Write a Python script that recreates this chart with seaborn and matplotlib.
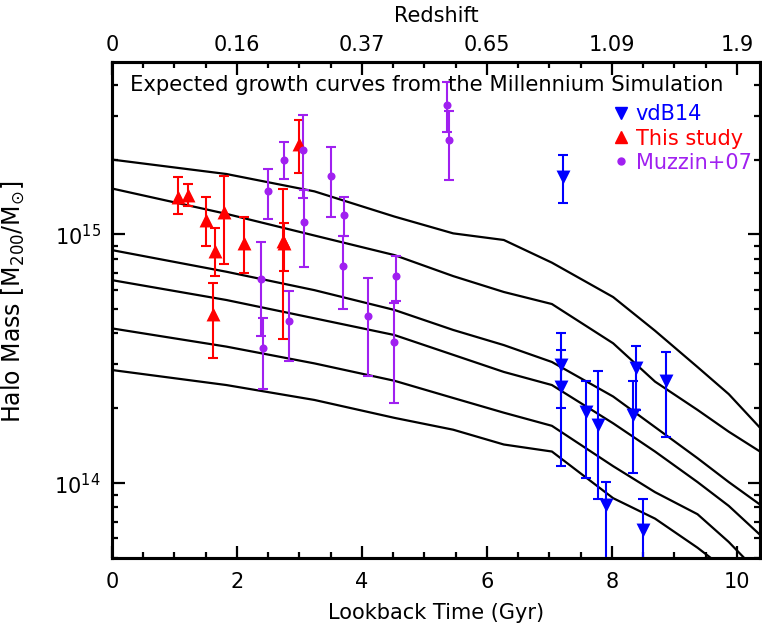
import numpy as np
import pandas as pd
import matplotlib
matplotlib.use("Agg")
import matplotlib.pyplot as plt
from matplotlib.lines import Line2D
from matplotlib.ticker import MultipleLocator, FixedLocator, FixedFormatter, LogLocator, NullFormatter
import seaborn as sns

sns.set_theme(style="ticks")
plt.rcParams["font.family"] = ["DejaVu Sans"]
plt.rcParams["mathtext.fontset"] = "dejavusans"
for k in ["text.color", "axes.labelcolor", "xtick.color", "ytick.color", "axes.edgecolor"]:
    plt.rcParams[k] = "black"

# ---------------- data (masses in units of 1e15 Msun) ----------------
curve_t = [0.0, 1.83, 3.24, 4.52, 5.46, 6.27, 7.04, 8.02, 8.69, 9.37, 9.87, 10.37]
curve1 = [2.00, 1.75, 1.49, 1.18, 1.01, 0.95, 0.77, 0.56, 0.41, 0.293, 0.228, 0.167]
curve2 = [1.53, 1.21, 0.99, 0.826, 0.68, 0.587, 0.525, 0.365, 0.256, 0.197, 0.161, 0.134]
curve3 = [0.865, 0.708, 0.597, 0.497, 0.413, 0.359, 0.307, 0.223, 0.168, 0.126, 0.101, 0.082]
curve4 = [0.655, 0.545, 0.460, 0.394, 0.328, 0.280, 0.248, 0.174, 0.134, 0.101, 0.081, 0.062]
curve5 = [0.419, 0.354, 0.303, 0.258, 0.220, 0.192, 0.170, 0.117, 0.092, 0.075, 0.058, 0.043]
curve6 = [0.285, 0.248, 0.216, 0.183, 0.164, 0.143, 0.134, 0.087, 0.072, 0.055, 0.044, 0.034]

this_t  = [1.06, 1.22, 1.50, 1.79, 1.65, 1.61, 2.11, 2.73, 2.76, 2.99]
this_m  = [1.42, 1.44, 1.14, 1.23, 0.86, 0.477, 0.92, 0.94, 0.92, 2.30]
this_lo = [1.21, 1.30, 0.90, 0.76, 0.68, 0.319, 0.70, 0.38, 0.71, 1.77]
this_hi = [1.70, 1.60, 1.42, 1.72, 1.06, 0.64, 1.18, 1.52, 1.11, 2.88]

muz_t  = [2.49, 2.75, 3.05, 3.08, 3.50, 3.72, 3.69, 4.09, 4.54, 4.51, 5.36, 5.40, 2.39, 2.42, 2.83]
muz_m  = [1.50, 2.00, 2.19, 1.12, 1.71, 1.20, 0.75, 0.47, 0.68, 0.37, 3.33, 2.39, 0.66, 0.35, 0.45]
muz_lo = [1.15, 1.67, 1.40, 0.74, 1.18, 0.99, 0.50, 0.27, 0.54, 0.21, 2.57, 1.65, 0.39, 0.24, 0.31]
muz_hi = [1.84, 2.35, 3.01, 1.51, 2.25, 1.41, 0.99, 0.67, 0.82, 0.53, 4.10, 3.14, 0.93, 0.46, 0.59]

vdb_t  = [7.21, 7.19, 7.19, 7.58, 7.77, 7.90, 8.39, 8.33, 8.87, 8.49]
vdb_m  = [1.70, 0.299, 0.244, 0.194, 0.171, 0.082, 0.291, 0.188, 0.258, 0.065]
vdb_lo = [1.34, 0.20, 0.117, 0.105, 0.086, 0.030, 0.197, 0.110, 0.154, 0.030]
vdb_hi = [2.08, 0.40, 0.343, 0.258, 0.283, 0.101, 0.357, 0.258, 0.338, 0.086]

top_ticks = [0, 2, 4, 6, 8, 10]
top_labels = ["0", "0.16", "0.37", "0.65", "1.09", "1.9"]

RED = "#ff0000"
BLUE = "#0000ff"
PURPLE = "#a020f0"
FS = 15

# ---------------- figure ----------------
fig = plt.figure(figsize=(7.62, 6.34), dpi=100)
ax = fig.add_axes([112 / 762, 1 - 558 / 634, 648 / 762, (558 - 61.7) / 634])

curves = pd.DataFrame({
    "t": curve_t * 6,
    "m": np.array(curve1 + curve2 + curve3 + curve4 + curve5 + curve6) * 1e15,
    "c": np.repeat(np.arange(6), len(curve_t)),
})
sns.lineplot(data=curves, x="t", y="m", units="c", estimator=None, sort=False,
             color="black", lw=1.6, ax=ax, legend=False)

def draw(t, m, lo, hi, color, marker, ms):
    m = np.array(m) * 1e15
    lo = np.array(lo) * 1e15
    hi = np.array(hi) * 1e15
    ax.errorbar(t, m, yerr=[m - lo, hi - m], fmt="none", ecolor=color,
                elinewidth=1.5, capsize=3.6, capthick=1.5, zorder=3)
    sns.scatterplot(x=t, y=m, marker=marker, s=ms ** 2, color=color,
                    edgecolor=color, linewidth=0, ax=ax, zorder=4, legend=False)

draw(vdb_t, vdb_m, vdb_lo, vdb_hi, BLUE, "v", 10)
draw(this_t, this_m, this_lo, this_hi, RED, "^", 10)
draw(muz_t, muz_m, muz_lo, muz_hi, PURPLE, "o", 5.8)

ax.set_yscale("log")
ax.set_xlim(0, 10.37)
ax.set_ylim(5e13, 4.95e15)

ax.xaxis.set_major_locator(MultipleLocator(2))
ax.xaxis.set_minor_locator(MultipleLocator(0.5))
ax.yaxis.set_major_locator(LogLocator(base=10, numticks=10))
ax.yaxis.set_minor_locator(LogLocator(base=10, subs=np.arange(2, 10), numticks=20))
ax.yaxis.set_minor_formatter(NullFormatter())

for s in ax.spines.values():
    s.set_linewidth(2.2)
    s.set_color("black")
ax.tick_params(which="both", direction="in", top=False, right=True, width=1.6,
               color="black", labelsize=FS)
ax.tick_params(axis="x", pad=10)
ax.tick_params(axis="y", pad=8)
ax.tick_params(which="major", length=9)
ax.tick_params(which="minor", length=4.5)

ax.set_xlabel("Lookback Time (Gyr)", fontsize=FS, labelpad=8)
ax.set_ylabel(r"Halo Mass [M$_{200}$/M$_{\odot}$]", fontsize=17)
ax.yaxis.set_label_coords(-0.131, 0.515)

ax2 = ax.twiny()
ax2.set_xlim(ax.get_xlim())
ax2.xaxis.set_major_locator(FixedLocator(top_ticks))
ax2.xaxis.set_major_formatter(FixedFormatter(top_labels))
ax2.xaxis.set_minor_locator(MultipleLocator(0.5))
ax2.tick_params(which="both", direction="in", width=1.6, color="black", labelsize=FS, pad=5)
ax2.tick_params(which="major", length=9)
ax2.tick_params(which="minor", length=4.5)
ax2.set_xlabel("Redshift", fontsize=FS, labelpad=9)
for s in ax2.spines.values():
    s.set_linewidth(2.2)

ax.text(0.028, 0.953, "Expected growth curves from the Millennium Simulation",
        transform=ax.transAxes, fontsize=15.2, va="center", ha="left")

handles = [
    Line2D([], [], ls="none", marker="v", color=BLUE, ms=9),
    Line2D([], [], ls="none", marker="^", color=RED, ms=9),
    Line2D([], [], ls="none", marker="o", color=PURPLE, ms=5),
]
ax.legend(handles, ["vdB14", "This study", "Muzzin+07"], loc="upper left",
          bbox_to_anchor=(0.757, 0.935), frameon=False, fontsize=FS,
          handlelength=0.8, handletextpad=0.3, labelspacing=0.2, borderpad=0,
          labelcolor=[BLUE, RED, PURPLE])

fig.savefig("out.png", dpi=100)
